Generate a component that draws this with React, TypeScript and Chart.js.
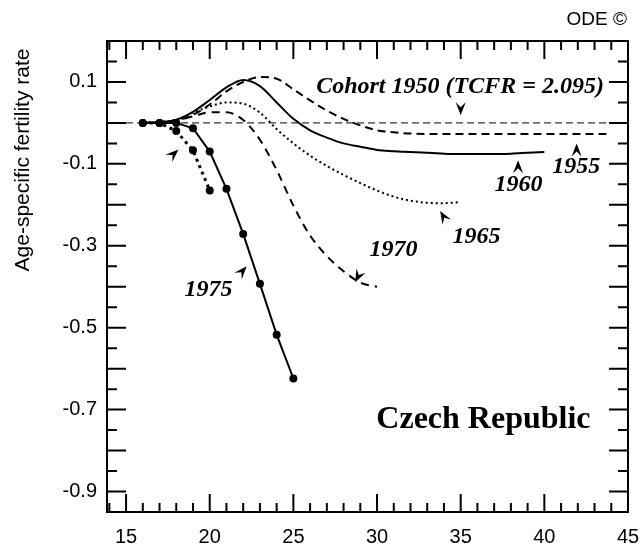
import React, { useEffect, useRef } from "react";
import { Chart, registerables } from "chart.js";

Chart.register(...registerables);

// ---- data (difference in age-specific fertility rate vs. cohort 1950) ----
const ages1950 = [15, 45];
const values1950 = [0, 0];

const ages1955 = [16, 17, 18, 19, 20, 21, 22, 23, 24, 25, 26, 27, 28, 29, 30, 31, 32, 33, 34, 35, 36, 37, 38, 39, 40, 41, 42, 43, 44];
const values1955 = [0, 0.002, 0.006, 0.02, 0.045, 0.077, 0.1, 0.112, 0.108, 0.082, 0.055, 0.03, 0.01, -0.006, -0.018, -0.023, -0.026, -0.027, -0.027, -0.027, -0.027, -0.027, -0.027, -0.027, -0.027, -0.027, -0.027, -0.027, -0.027];

const ages1960 = [16, 17, 18, 19, 20, 21, 22, 23, 24, 25, 26, 27, 28, 29, 30, 31, 32, 33, 34, 35, 36, 37, 38, 39, 40];
const values1960 = [0, 0.002, 0.008, 0.027, 0.056, 0.087, 0.105, 0.09, 0.05, 0.01, -0.018, -0.036, -0.05, -0.058, -0.066, -0.069, -0.071, -0.073, -0.075, -0.076, -0.076, -0.076, -0.075, -0.073, -0.071];

const ages1965 = [16, 17, 18, 19, 20, 21, 22, 23, 24, 25, 26, 27, 28, 29, 30, 31, 32, 33, 34, 35];
const values1965 = [0, 0.002, 0.008, 0.025, 0.04, 0.05, 0.047, 0.025, -0.015, -0.05, -0.08, -0.105, -0.127, -0.147, -0.165, -0.18, -0.19, -0.195, -0.196, -0.193];

const ages1970 = [16, 17, 18, 19, 20, 21, 22, 23, 24, 25, 26, 27, 28, 29, 30];
const values1970 = [0, 0.002, 0.006, 0.016, 0.026, 0.026, 0.007, -0.041, -0.115, -0.202, -0.275, -0.325, -0.362, -0.39, -0.4];

const ages1975 = [16, 17, 18, 19, 20, 21, 22, 23, 24, 25];
const values1975 = [0, 0, 0, -0.013, -0.07, -0.161, -0.271, -0.393, -0.517, -0.624];

const ages1980 = [16, 17, 18, 19, 20];
const values1980 = [0, 0, -0.02, -0.067, -0.165];

const xTickLabels = [15, 20, 25, 30, 35, 40, 45];
const yTickLabels = [0.1, -0.1, -0.3, -0.5, -0.7, -0.9];

// annotation texts with positions in data units
const cohortLabels = [
  { text: "Cohort 1950 (TCFR = 2.095)", x: 34.96, y: 0.088 },
  { text: "1955", x: 41.9, y: -0.106 },
  { text: "1960", x: 38.46, y: -0.15 },
  { text: "1965", x: 35.95, y: -0.277 },
  { text: "1970", x: 30.99, y: -0.311 },
  { text: "1975", x: 19.93, y: -0.408 },
];
// arrows: from (fx, fy) to tip (tx, ty), data units
const arrows = [
  { fx: 35, fy: 0.048, tx: 35, ty: 0.019 },
  { fx: 41.93, fy: -0.086, tx: 41.93, ty: -0.05 },
  { fx: 38.43, fy: -0.124, tx: 38.43, ty: -0.091 },
  { fx: 34.2, fy: -0.244, tx: 33.77, ty: -0.215 },
  { fx: 29.3, fy: -0.34, tx: 28.69, ty: -0.389 },
  { fx: 21.6, fy: -0.378, tx: 22.21, ty: -0.35 },
  { fx: 17.6, fy: -0.085, tx: 18.13, ty: -0.065 },
];
const countryLabel = { text: "Czech Republic", x: 36.36, y: -0.725 };

const zip = (xs: number[], ys: number[]) => xs.map((x, i) => ({ x, y: ys[i] }));

function drawArrow(ctx: CanvasRenderingContext2D, fx: number, fy: number, tx: number, ty: number) {
  const ang = Math.atan2(ty - fy, tx - fx);
  ctx.save();
  ctx.translate(tx, ty);
  ctx.rotate(ang);
  ctx.beginPath();
  ctx.moveTo(0, 0);
  ctx.lineTo(-13, -5);
  ctx.lineTo(-8, 0);
  ctx.lineTo(-13, 5);
  ctx.closePath();
  ctx.fillStyle = "#000";
  ctx.fill();
  ctx.restore();
}

const decorPlugin = {
  id: "decor",
  afterDraw(chart: any) {
    const ctx: CanvasRenderingContext2D = chart.ctx;
    const { left, right, top, bottom } = chart.chartArea;
    const xs = chart.scales.x;
    const ys = chart.scales.y;
    ctx.save();
    ctx.strokeStyle = "#000";
    ctx.lineWidth = 2;
    ctx.strokeRect(left, top, right - left, bottom - top);
    ctx.beginPath();
    for (let a = Math.ceil(xs.min); a <= xs.max; a++) {
      const px = xs.getPixelForValue(a);
      const len = a % 5 === 0 ? 18 : 9;
      ctx.moveTo(px, bottom);
      ctx.lineTo(px, bottom - len);
      ctx.moveTo(px, top);
      ctx.lineTo(px, top + len);
    }
    for (let k = -19; k <= 4; k++) {
      const py = ys.getPixelForValue(k * 0.05);
      const len = k % 2 === 0 ? 19 : 10;
      ctx.moveTo(left, py);
      ctx.lineTo(left + len, py);
      ctx.moveTo(right, py);
      ctx.lineTo(right - len, py);
    }
    ctx.stroke();

    // annotations
    ctx.fillStyle = "#000";
    ctx.textAlign = "center";
    ctx.textBaseline = "middle";
    ctx.font = "bold italic 24px 'Liberation Serif', 'Times New Roman', serif";
    cohortLabels.forEach((l) => {
      ctx.fillText(l.text, xs.getPixelForValue(l.x), ys.getPixelForValue(l.y));
    });
    arrows.forEach((a) => {
      drawArrow(ctx, xs.getPixelForValue(a.fx), ys.getPixelForValue(a.fy), xs.getPixelForValue(a.tx), ys.getPixelForValue(a.ty));
    });
    ctx.font = "bold 32px 'Liberation Serif', 'Times New Roman', serif";
    ctx.fillText(countryLabel.text, xs.getPixelForValue(countryLabel.x), ys.getPixelForValue(countryLabel.y));

    // axis title
    ctx.font = "21px 'Liberation Sans', Arial, sans-serif";
    ctx.save();
    ctx.translate(23, 160);
    ctx.rotate(-Math.PI / 2);
    ctx.fillText("Age-specific fertility rate", 0, 0);
    ctx.restore();

    // copyright
    ctx.textAlign = "right";
    ctx.font = "19px 'Liberation Sans', Arial, sans-serif";
    ctx.fillText("ODE \u00a9", 627, 20);
    ctx.restore();
  },
};

export default function App() {
  const ref = useRef<HTMLCanvasElement | null>(null);
  useEffect(() => {
    if (!ref.current) return;
    const common = { pointRadius: 0, borderColor: "#000", fill: false };
    const chart = new Chart(ref.current, {
      type: "line",
      data: {
        datasets: [
          { ...common, label: "1950", data: zip(ages1950, values1950), borderWidth: 1, borderDash: [7, 4], tension: 0 },
          { ...common, label: "1955", data: zip(ages1955, values1955), borderWidth: 2, borderDash: [8, 5], cubicInterpolationMode: "monotone" },
          { ...common, label: "1960", data: zip(ages1960, values1960), borderWidth: 2, cubicInterpolationMode: "monotone" },
          { ...common, label: "1965", data: zip(ages1965, values1965), borderWidth: 2, borderDash: [2, 3], cubicInterpolationMode: "monotone" },
          { ...common, label: "1970", data: zip(ages1970, values1970), borderWidth: 2, borderDash: [8, 6], cubicInterpolationMode: "monotone" },
          { ...common, label: "1975", data: zip(ages1975, values1975), borderWidth: 2, tension: 0, pointRadius: 4, pointBackgroundColor: "#000", pointBorderWidth: 0 },
          { ...common, label: "1980", data: zip(ages1980, values1980), borderWidth: 3, borderDash: [3, 4], tension: 0, pointRadius: 4, pointBackgroundColor: "#000", pointBorderWidth: 0 },
        ] as any,
      },
      options: {
        animation: false,
        responsive: false,
        layout: { padding: { top: 41, right: 13, left: 0, bottom: 0 } },
        plugins: { legend: { display: false }, tooltip: { enabled: false } },
        scales: {
          x: {
            type: "linear",
            min: 13.86,
            max: 45,
            grid: { display: false, drawTicks: false },
            border: { display: false },
            afterBuildTicks: (s: any) => {
              s.ticks = xTickLabels.map((v) => ({ value: v }));
            },
            afterFit: (s: any) => {
              s.height = 37;
              s.paddingLeft = 0;
              s.paddingRight = 0;
            },
            ticks: {
              color: "#000",
              padding: 13,
              maxRotation: 0,
              autoSkip: false,
              font: { family: "'Liberation Sans', Arial, sans-serif", size: 20 },
              callback: (v: any) => String(v),
            },
          },
          y: {
            type: "linear",
            min: -0.95,
            max: 0.2,
            grid: { display: false, drawTicks: false },
            border: { display: false },
            afterBuildTicks: (s: any) => {
              s.ticks = yTickLabels.map((v) => ({ value: v }));
            },
            afterFit: (s: any) => {
              s.width = 107;
              s.paddingTop = 0;
              s.paddingBottom = 0;
            },
            ticks: {
              color: "#000",
              padding: 10,
              autoSkip: false,
              font: { family: "'Liberation Sans', Arial, sans-serif", size: 20 },
              callback: (v: any) => Number(v).toFixed(1),
            },
          },
        },
      },
      plugins: [decorPlugin],
    });
    return () => chart.destroy();
  }, []);
  return (
    <div style={{ position: "fixed", left: 0, top: 0, width: 641, height: 549, background: "#fff" }}>
      <canvas ref={ref} width={641} height={549} />
    </div>
  );
}
